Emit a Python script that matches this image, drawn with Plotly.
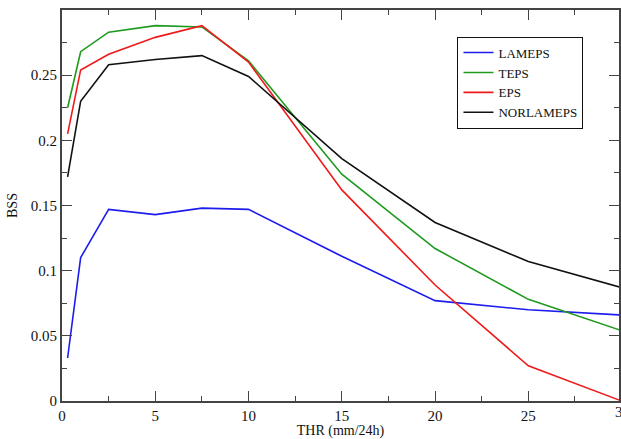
import plotly.graph_objects as go

# Brier skill score by precipitation threshold
thr = [0.3, 1, 2.5, 5, 7.5, 10, 15, 20, 25, 30]
lameps = [0.033, 0.110, 0.147, 0.143, 0.148, 0.147, 0.111, 0.077, 0.070, 0.066]
teps = [0.225, 0.268, 0.283, 0.288, 0.287, 0.261, 0.174, 0.117, 0.078, 0.054]
eps = [0.205, 0.254, 0.266, 0.279, 0.288, 0.260, 0.162, 0.089, 0.027, 0.000]
norlameps = [0.172, 0.230, 0.258, 0.262, 0.265, 0.249, 0.186, 0.137, 0.107, 0.087]

y_ticks = [0, 0.05, 0.1, 0.15, 0.2, 0.25]
y_tick_text = ["0", "0.05", "0.1", "0.15", "0.2", "0.25"]

series = [
    ("LAMEPS", lameps, "#1c1cee"),
    ("TEPS", teps, "#1e9a1e"),
    ("EPS", eps, "#ee1a1a"),
    ("NORLAMEPS", norlameps, "#111111"),
]

font = "'Times New Roman', 'Liberation Serif', 'DejaVu Serif', serif"

fig = go.Figure()
for name, vals, color in series:
    fig.add_trace(go.Scatter(x=thr, y=vals, mode="lines", name=name,
                             line=dict(color=color, width=1.6)))

axis_common = dict(
    showgrid=False, zeroline=False, showline=True, linecolor="#444444",
    linewidth=2, mirror="ticks", ticks="inside", ticklen=10, tickwidth=1,
    tickcolor="#444444", tickfont=dict(family=font, size=15, color="#111"),
)

fig.update_layout(
    width=621, height=439,
    margin=dict(l=62, r=0, t=10, b=37),
    paper_bgcolor="white", plot_bgcolor="white",
    font=dict(family=font, color="#111"),
    xaxis=dict(range=[0, 29.86], dtick=5, tick0=0,
               minor=dict(dtick=2.5, ticklen=5, ticks="inside", tickcolor="#444444"),
               title=dict(text="THR (mm/24h)", font=dict(family=font, size=14), standoff=5),
               **axis_common),
    yaxis=dict(range=[0, 0.3], tickmode="array", tickvals=y_ticks, ticktext=y_tick_text,
               minor=dict(dtick=0.025, tick0=0, ticklen=5, ticks="inside", tickcolor="#444444"),
               title=dict(text="BSS", font=dict(family=font, size=14), standoff=10),
               **axis_common),
    legend=dict(x=0.71, y=0.932, xanchor="left", yanchor="top",
                bgcolor="white", bordercolor="#111", borderwidth=1,
                font=dict(family=font, size=13, color="#111"),
                tracegroupgap=0, itemwidth=30),
    showlegend=True,
)

# tick label for the right end of the axis, partly beyond the page edge
fig.add_annotation(x=1.0 - 6.0 / 559, y=0, xref="paper", yref="paper",
                   text="30", showarrow=False, xanchor="left", yanchor="top",
                   yshift=-1, font=dict(family=font, size=15, color="#111"))

fig.write_html("out.html")
